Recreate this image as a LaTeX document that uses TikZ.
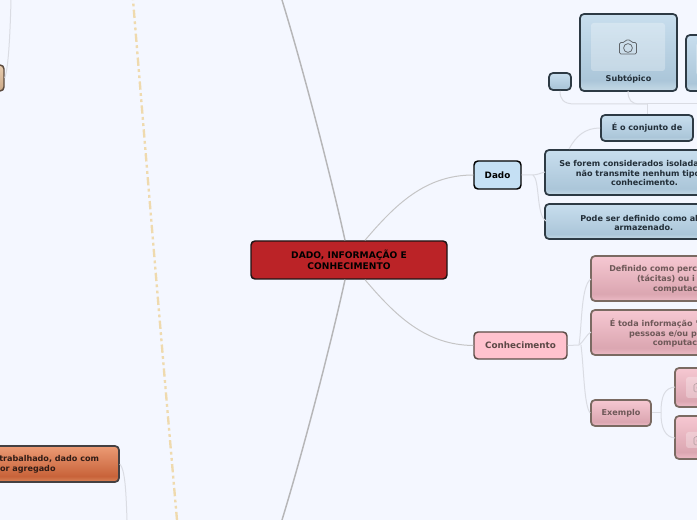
\documentclass[tikz,border=0pt]{standalone}
\usepackage{fontspec}
\setmainfont{DejaVu Sans}
\usetikzlibrary{calc}
\definecolor{bgc}{HTML}{F4F7FF}
\definecolor{conn}{HTML}{DADCE3}
\definecolor{mainc}{HTML}{B6B6B8}
\definecolor{beige}{HTML}{EFDAAE}
\definecolor{blueT}{HTML}{C8DEEE}
\definecolor{blueM}{HTML}{ABC6D9}
\definecolor{blueB}{HTML}{C6DAE6}
\definecolor{pinkT}{HTML}{F6C8D2}
\definecolor{pinkM}{HTML}{DBA6B1}
\definecolor{pinkB}{HTML}{EDBBC6}
\definecolor{oraT}{HTML}{EC9B75}
\definecolor{oraM}{HTML}{C8633A}
\definecolor{oraB}{HTML}{D98459}
\definecolor{tanT}{HTML}{E8CDB0}
\definecolor{tanM}{HTML}{CBA988}
\definecolor{rootF}{HTML}{BB2327}
\definecolor{rootD}{HTML}{1E1414}
\definecolor{dadoF}{HTML}{C5E0F4}
\definecolor{conhF}{HTML}{FFC2CE}
\definecolor{conhD}{HTML}{5C4C46}
\definecolor{conhT}{HTML}{5C4846}
\definecolor{blueD}{HTML}{2D3A44}
\definecolor{blueX}{HTML}{222E38}
\definecolor{pinkD}{HTML}{7A6A62}
\definecolor{pinkX}{HTML}{6E5858}
\definecolor{oraD}{HTML}{444042}
\definecolor{oraX}{HTML}{301C16}
\definecolor{tanD}{HTML}{5A4A3E}
\definecolor{camC}{HTML}{5F6469}
\definecolor{camP}{HTML}{B09A9E}
\pgfdeclareverticalshading{bluegloss}{100bp}{color(0bp)=(blueB); color(25bp)=(blueB); color(32bp)=(blueM); color(75bp)=(blueT); color(100bp)=(blueT)}
\pgfdeclareverticalshading{pinkgloss}{100bp}{color(0bp)=(pinkB); color(25bp)=(pinkB); color(33bp)=(pinkM); color(75bp)=(pinkT); color(100bp)=(pinkT)}
\pgfdeclareverticalshading{oragloss}{100bp}{color(0bp)=(oraB); color(25bp)=(oraB); color(33bp)=(oraM); color(75bp)=(oraT); color(100bp)=(oraT)}
\pgfdeclareverticalshading{tangloss}{100bp}{color(0bp)=(tanM); color(25bp)=(tanM); color(75bp)=(tanT); color(100bp)=(tanT)}
\newcommand{\sizeA}{\fontsize{6.6pt}{7.8pt}\selectfont\bfseries}
\newcommand{\sizeB}{\fontsize{6.05pt}{7.15pt}\selectfont\bfseries}
\newcommand{\lowered}[1]{\raisebox{-0.6pt}{#1}}
\tikzset{
  x=0.75pt, y=-0.75pt,
  base/.style={rectangle, rounded corners=3pt, inner sep=0pt, align=center, font=\sizeB},
  centre/.style={base, fill=rootF, draw=rootD, line width=1.1pt, text=black, font=\fontsize{6.85pt}{8pt}\selectfont\bfseries},
  dadobox/.style={base, fill=dadoF, draw=black, line width=1.1pt, text=black, font=\sizeA},
  conhbox/.style={base, fill=conhF, draw=conhD, line width=1.1pt, text=conhT, font=\sizeA},
  bluebox/.style={base, shading=bluegloss, draw=blueD, line width=1.3pt, text=blueX},
  pinkbox/.style={base, shading=pinkgloss, draw=pinkD, line width=1.3pt, text=pinkX},
  orabox/.style={base, shading=oragloss, draw=oraD, line width=1.3pt},
  tanbox/.style={base, shading=tangloss, draw=tanD, line width=1.1pt},
  lbl/.style={anchor=west, inner sep=0pt, align=left, font=\sizeB},
  thumb/.style={rectangle, rounded corners=2pt, fill=white, fill opacity=0.28, draw=none, inner sep=0pt},
  thin conn/.style={draw=conn, line width=0.75pt},
  main conn/.style={draw=mainc, line width=1.1pt},
  mid conn/.style={draw=mainc!80!white, line width=0.75pt},
  camline/.style={draw=camC, line width=0.55pt},
  camlinep/.style={draw=camP, line width=0.5pt},
}
\newcommand{\boxnode}[7]{% style, name, x1,y1,x2,y2, text
  \pgfmathsetmacro{\cx}{(#3+#5)/2}\pgfmathsetmacro{\cy}{(#4+#6)/2}
  \pgfmathsetmacro{\bw}{(#5-#3)*0.75}\pgfmathsetmacro{\bh}{(#6-#4)*0.75}
  \node[#1, minimum width=\bw pt, minimum height=\bh pt] (#2) at (\cx,\cy) {#7};
}
\newcommand{\thumbnode}[5]{% name,x1,y1,x2,y2
  \pgfmathsetmacro{\cx}{(#2+#4)/2}\pgfmathsetmacro{\cy}{(#3+#5)/2}
  \pgfmathsetmacro{\bw}{(#4-#2)*0.75}\pgfmathsetmacro{\bh}{(#5-#3)*0.75}
  \node[thumb, minimum width=\bw pt, minimum height=\bh pt] (#1) at (\cx,\cy) {};
}
\newcommand{\camera}[4]{% x,y,scale,style
  \begin{scope}[shift={(#1,#2)}, x=#3*0.75pt, y=-#3*0.75pt]
    \draw[#4, rounded corners=1pt] (-8.5,-4.5) -- (-3.5,-4.5) -- (-2.5,-7) -- (2.5,-7) -- (3.5,-4.5) -- (8.5,-4.5) -- (8.5,7) -- (-8.5,7) -- cycle;
    \draw[#4] (0,1) circle[radius=4.4];
  \end{scope}
}
\begin{document}
\begin{tikzpicture}
\useasboundingbox (0,0) rectangle (697,520);
\clip (0,0) rectangle (697,520);
\fill[bgc] (0,0) rectangle (697,520);

% free ends of the connectors
\coordinate (topEnd) at (282,0);
\coordinate (botEnd) at (282,520);
\coordinate (leftTop) at (11,0);
\coordinate (oraEnd) at (127,520);
\coordinate (hubUp) at (647,104);

% beige boundary
\draw[beige, line width=1.75pt, dash pattern=on 6.2pt off 2.55pt on 2.1pt off 2.55pt on 2.1pt off 2.5pt, dash phase=10.7pt]
  (133,0) .. controls (147,170) and (162,350) .. (177,520);

% nodes
\boxnode{centre}{root}{251}{241}{447}{279}{DADO, INFORMAÇÃO E\\CONHECIMENTO}
\boxnode{dadobox}{dado}{474}{161}{521}{189}{\lowered{Dado}}
\boxnode{conhbox}{conh}{474}{332}{567}{359}{\lowered{Conhecimento}}
\boxnode{bluebox}{conj}{601}{115}{693}{141}{\lowered{É o conjunto de}}
\boxnode{bluebox}{sef}{545}{150}{790}{195}{}
\boxnode{bluebox}{pode}{545}{204}{790}{239}{}
\boxnode{pinkbox}{defi}{591}{256}{790}{301}{}
\boxnode{pinkbox}{toda}{591}{310}{790}{355}{}
\boxnode{pinkbox}{exem}{591}{400}{651}{426}{\lowered{Exemplo}}
\boxnode{pinkbox}{exa}{675}{368}{790}{407}{}
\boxnode{pinkbox}{exb}{675}{416}{790}{459}{}
\boxnode{bluebox}{small}{549}{73}{571}{90}{}
\boxnode{bluebox}{sub}{580}{14}{677}{91}{}
\boxnode{bluebox}{subb}{686}{35}{790}{91}{}
\boxnode{tanbox}{tan}{-60}{65}{4}{91}{}
\boxnode{orabox}{ora}{-200}{446}{119}{482}{}

% thumbnails
\thumbnode{thA}{591}{23}{665}{71}
\thumbnode{thB}{696}{43}{790}{75}
\thumbnode{thC}{686}{377}{790}{398}
\thumbnode{thD}{686}{432}{790}{448}
\camera{628}{47}{1}{camline}
\camera{700}{387}{0.7}{camlinep}
\camera{700}{440}{0.7}{camlinep}

% labels
\node[anchor=center, inner sep=0pt, font=\sizeB, text=blueX] (subl) at (628.5,79) {Subtópico};
\node[lbl, text=blueX] (sefl) at (559,173.3) {Se forem considerados isolada\\\hspace*{12.5pt}não transmite nenhum tipo\\\hspace*{38.8pt}conhecimento.};
\node[lbl, text=blueX] (podel) at (580,222.8) {Pode ser definido como alg\\\hspace*{25.5pt}armazenado.};
\node[lbl, text=pinkX] (defl) at (609,279.3) {Definido como perce\\\hspace*{20.8pt}(tácitas) ou i\\\hspace*{32.8pt}computac};
\node[lbl, text=pinkX] (todl) at (609.5,333.3) {É toda informação "\\\hspace*{14.5pt}pessoas e/ou p\\\hspace*{32.3pt}computac};
\node[lbl, text=oraX] (oral) at (-3,464.5) {\hspace*{1.5pt}trabalhado, dado com\\lor agregado};

% connectors
\draw[main conn] ($(root.north)+(-4,0)$) .. controls (333,185) and (305,75) .. (topEnd);
\draw[main conn] ($(root.south)+(-4,0)$) .. controls (333,335) and (305,445) .. (botEnd);
\draw[mid conn] ($(root.north)+(16,0)$) .. controls (395,205) and (425,175) .. (dado.west);
\draw[mid conn] ($(root.south)+(16,0)$) .. controls (395,315) and (425,345) .. (conh.west);
\draw[thin conn] (dado.east) -- (532,175) .. controls (538,175) and (540,173) .. (545,172);
\draw[thin conn] (569,149) .. controls (576,136) and (585,128) .. (conj.west);
\draw[thin conn] (533,175) .. controls (540,180) and (536,215) .. (546,221);
\draw[thin conn] (conh.east) -- (579,345) .. controls (585,340) and (586,335) .. (591,332);
\draw[thin conn] (579,345) .. controls (582,325) and (581,285) .. (591,279);
\draw[thin conn] (581,345) .. controls (584,370) and (584,405) .. (exem.west);
\draw[thin conn] (exem.east) -- (661,413);
\draw[thin conn] (661,413) .. controls (661,395) and (665,388) .. (675,387);
\draw[thin conn] (661,413) .. controls (661,428) and (665,437) .. (675,438);
\draw[thin conn] (conj.north -| hubUp) -- (hubUp);
\draw[thin conn] (small.south) .. controls (560,99) and (563,104) .. (575,104) -- (hubUp);
\draw[thin conn] (628,91) .. controls (628,100) and (631,104) .. (640,104) -- (hubUp);
\draw[thin conn] (697,104) -- (hubUp);
\draw[thin conn] (leftTop) .. controls (10,40) and (8,70) .. (tan.east);
\draw[thin conn] (ora.east) .. controls (125,470) and (126,490) .. (oraEnd);
\end{tikzpicture}
\end{document}
